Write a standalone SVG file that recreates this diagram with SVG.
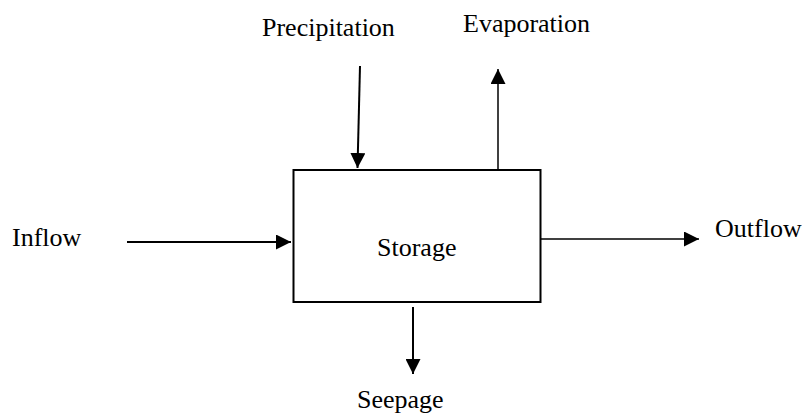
<svg xmlns="http://www.w3.org/2000/svg" width="802" height="415" viewBox="0 0 802 415">
<style>
text{font-family:"Liberation Serif","Times New Roman",serif;font-size:26px;fill:#000}
.ln{stroke:#000;stroke-width:2;fill:none}
.thin{stroke-width:1.5}
</style>
<defs>
<marker id="ah" viewBox="0 0 10 10" refX="10" refY="5" markerWidth="15" markerHeight="15" markerUnits="userSpaceOnUse" orient="auto">
<path d="M0,0 L10,5 L0,10 Z" fill="#000"/>
</marker>
</defs>
<rect width="802" height="415" fill="#fff"/>
<g id="storage">
<rect x="293.5" y="170" width="247" height="132" fill="#fff" stroke="#000" stroke-width="2"/>
<text x="377" y="256">Storage</text>
</g>
<g id="precipitation"><text x="262" y="36">Precipitation</text></g>
<g id="evaporation"><text x="463" y="32">Evaporation</text></g>
<g id="inflow"><text x="12" y="246">Inflow</text></g>
<g id="outflow"><text x="715" y="237">Outflow</text></g>
<g id="seepage"><text x="357" y="408">Seepage</text></g>
<g id="connectors">
<line class="ln" x1="360" y1="66" x2="357.5" y2="168" marker-end="url(#ah)"/>
<line class="ln thin" x1="498" y1="170" x2="498" y2="69" marker-end="url(#ah)"/>
<line class="ln" x1="127" y1="242" x2="291" y2="242" marker-end="url(#ah)"/>
<line class="ln thin" x1="541" y1="239" x2="699" y2="239" marker-end="url(#ah)"/>
<line class="ln" x1="413" y1="307" x2="413" y2="374" marker-end="url(#ah)"/>
</g>
</svg>
